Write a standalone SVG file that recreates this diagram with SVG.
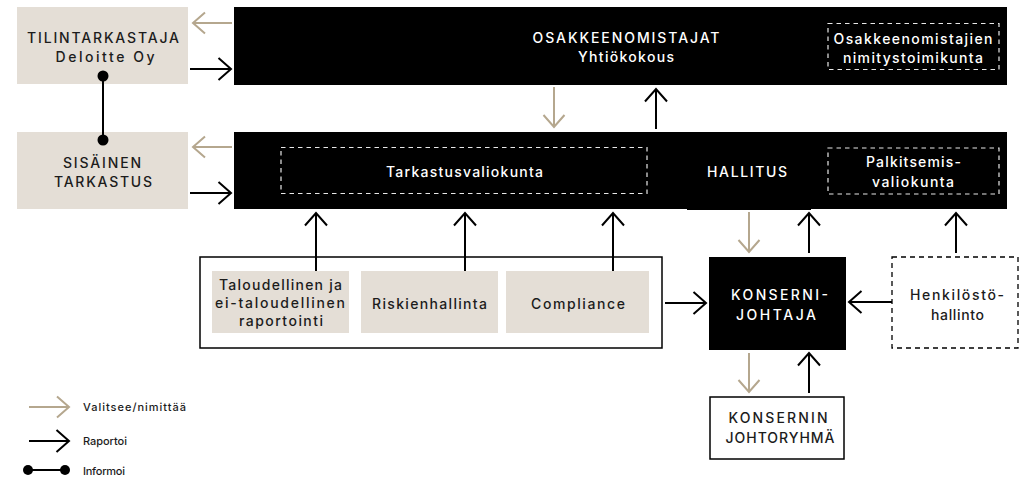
<svg xmlns="http://www.w3.org/2000/svg" width="1027" height="480" viewBox="0 0 1027 480">
<style>
text{font-family:Inter,"DejaVu Sans","Liberation Sans",sans-serif;font-size:14px;font-weight:500;text-anchor:middle}
.w{fill:#ffffff}
.d{fill:#1c1c1c}
.lg{font-size:11px;text-anchor:start;fill:#1c1c1c}
.blk{fill:#000000}
.bg{fill:#e4ded6}
.wb{fill:#ffffff;stroke:#000000;stroke-width:1.5}
.dw{fill:none;stroke:#e8e8e8;stroke-width:1.2;stroke-dasharray:4.5 4}
.db{fill:#ffffff;stroke:#000000;stroke-width:1.3;stroke-dasharray:5 4}
.sel{fill:none;stroke:#b5a78e;stroke-width:2;marker-end:url(#ab)}
.rep{fill:none;stroke:#000000;stroke-width:2;marker-end:url(#ak)}
.inf{fill:none;stroke:#000000;stroke-width:2}
.dot{fill:#000000}
</style>
<defs>
<marker id="ab" markerUnits="userSpaceOnUse" refX="0" refY="0" orient="auto" overflow="visible">
<path d="M-12,-10.5 L0,0 L-12,10.5" fill="none" stroke="#b5a78e" stroke-width="2"/>
</marker>
<marker id="ak" markerUnits="userSpaceOnUse" refX="0" refY="0" orient="auto" overflow="visible">
<path d="M-12.5,-11 L0,0 L-12.5,11" fill="none" stroke="#000000" stroke-width="2"/>
</marker>
</defs>

<g id="tilintarkastaja">
<rect class="bg" x="17" y="7" width="171" height="77"/>
<text class="d" x="103" y="43" textLength="152">TILINTARKASTAJA</text>
<text class="d" x="105" y="62" textLength="99">Deloitte Oy</text>
</g>

<g id="sisainen-tarkastus">
<rect class="bg" x="17" y="132" width="171" height="77"/>
<text class="d" x="102" y="168" textLength="78">SISÄINEN</text>
<text class="d" x="103" y="187" textLength="98">TARKASTUS</text>
</g>

<g id="osakkeenomistajat">
<rect class="blk" x="234" y="7" width="773" height="78"/>
<text class="w" x="626" y="43" textLength="187">OSAKKEENOMISTAJAT</text>
<text class="w" x="626" y="62" textLength="96">Yhtiökokous</text>
</g>

<g id="nimitystoimikunta">
<rect class="dw" x="828" y="23.5" width="171" height="46"/>
<text class="w" x="913" y="44" textLength="159">Osakkeenomistajien</text>
<text class="w" x="913" y="63" textLength="140">nimitystoimikunta</text>
</g>

<g id="hallitus">
<rect class="blk" x="234" y="132" width="773" height="77"/>
<rect class="blk" x="687" y="205" width="124" height="5"/>
<text class="w" x="747" y="177" textLength="80">HALLITUS</text>
</g>

<g id="tarkastusvaliokunta">
<rect class="dw" x="281" y="147.5" width="366" height="46"/>
<text class="w" x="464.5" y="177" textLength="157">Tarkastusvaliokunta</text>
</g>

<g id="palkitsemisvaliokunta">
<rect class="dw" x="828" y="148" width="171" height="46"/>
<text class="w" x="913.5" y="167" textLength="95">Palkitsemis-</text>
<text class="w" x="913" y="187" textLength="82">valiokunta</text>
</g>

<g id="toiminnot">
<rect class="wb" x="200" y="257" width="462" height="91"/>
</g>

<g id="raportointi">
<rect class="bg" x="212" y="271" width="137" height="62"/>
<text class="d" x="280.5" y="290" textLength="123">Taloudellinen ja</text>
<text class="d" x="280" y="308" textLength="130">ei-taloudellinen</text>
<text class="d" x="281" y="326" textLength="84">raportointi</text>
</g>

<g id="riskienhallinta">
<rect class="bg" x="361" y="271" width="137" height="62"/>
<text class="d" x="429.5" y="309" textLength="115">Riskienhallinta</text>
</g>

<g id="compliance">
<rect class="bg" x="506" y="271" width="143" height="62"/>
<text class="d" x="578" y="309" textLength="94">Compliance</text>
</g>

<g id="konsernijohtaja">
<rect class="blk" x="709" y="257" width="137" height="93"/>
<text class="w" x="779.5" y="300" textLength="97">KONSERNI-</text>
<text class="w" x="776" y="320" textLength="80">JOHTAJA</text>
</g>

<g id="henkilostohallinto">
<rect class="db" x="892" y="257" width="126" height="91"/>
<text class="d" x="957" y="300" textLength="94">Henkilöstö-</text>
<text class="d" x="957.5" y="320" textLength="53">hallinto</text>
</g>

<g id="johtoryhma">
<rect class="wb" x="710" y="397" width="134" height="62"/>
<text class="d" x="778" y="423" textLength="99">KONSERNIN</text>
<text class="d" x="780" y="443" textLength="109">JOHTORYHMÄ</text>
</g>

<g id="connectors">
<path class="sel" d="M232,23 H193"/>
<path class="sel" d="M232,147 H193"/>
<path class="sel" d="M554,87 V127"/>
<path class="sel" d="M749,212 V252"/>
<path class="sel" d="M749,353 V392"/>
<path class="rep" d="M190,69 H231"/>
<path class="rep" d="M190,193 H231"/>
<path class="rep" d="M656,129 V89"/>
<path class="rep" d="M316,271 V213"/>
<path class="rep" d="M465,271 V213"/>
<path class="rep" d="M613,271 V213"/>
<path class="rep" d="M665,303 H706"/>
<path class="rep" d="M809,253 V213"/>
<path class="rep" d="M956,253 V213"/>
<path class="rep" d="M892,302 H849"/>
<path class="rep" d="M809,393 V353"/>
<path class="inf" d="M103,76 V140"/>
<circle class="dot" cx="103" cy="76" r="5.5"/>
<circle class="dot" cx="103" cy="140" r="5.5"/>
</g>

<g id="legend">
<path class="sel" d="M29,407 H69"/>
<text class="lg" x="83" y="411" textLength="103">Valitsee/nimittää</text>
<path class="rep" d="M29,441 H69"/>
<text class="lg" x="83" y="445" textLength="44">Raportoi</text>
<path class="inf" d="M28,470 H65"/>
<circle class="dot" cx="28" cy="470" r="5"/>
<circle class="dot" cx="65" cy="470" r="5"/>
<text class="lg" x="83" y="475" textLength="42">Informoi</text>
</g>
</svg>
